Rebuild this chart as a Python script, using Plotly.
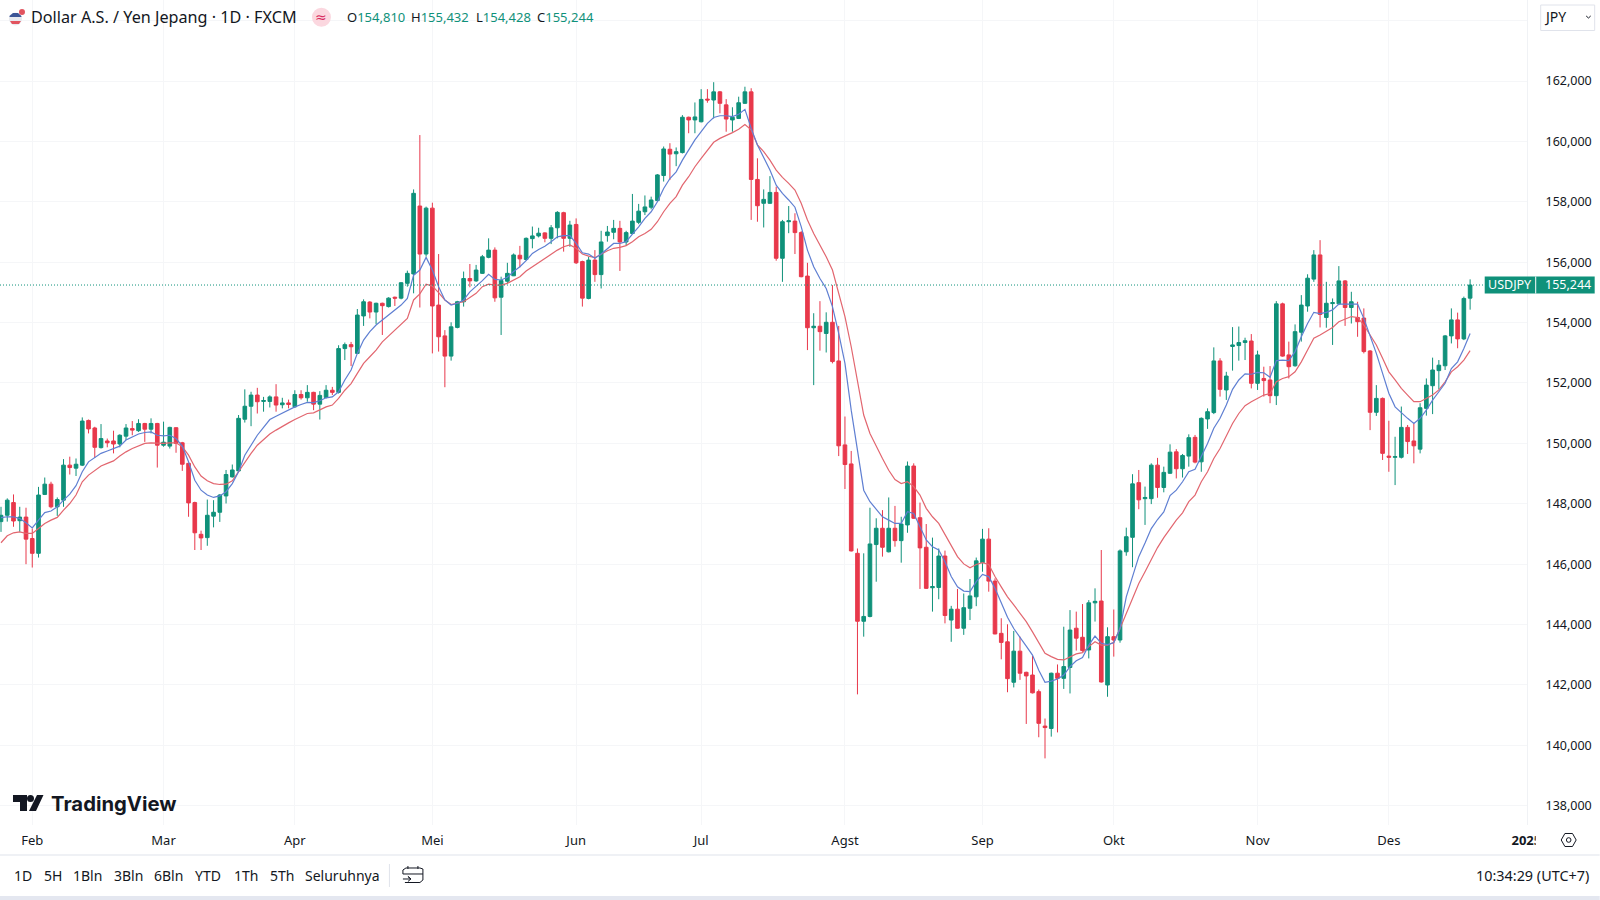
import plotly.graph_objects as go

# USD/JPY daily candles
open_ = [147.41,147.62,148.04,147.44,147.56,146.85,146.36,148.31,148.65,147.90,
    148.12,149.28,149.18,149.28,150.76,150.51,149.86,150.08,150.08,149.98,
    150.24,150.49,150.42,150.66,150.47,150.66,149.94,149.91,150.52,150.02,
    149.34,148.04,146.99,146.88,147.59,147.72,148.26,148.89,149.09,150.80,
    151.23,151.60,151.39,151.39,151.54,151.28,151.34,151.21,151.62,151.51,
    151.69,151.30,151.52,151.76,151.69,153.14,153.27,152.98,154.22,154.68,
    154.35,154.64,154.53,154.84,154.81,155.30,155.61,157.86,156.27,157.79,
    154.58,153.56,152.89,153.84,154.69,155.46,155.38,155.63,156.16,156.40,
    154.84,155.37,155.55,156.23,156.09,156.78,156.87,156.97,156.79,157.14,
    157.64,156.79,157.25,156.02,154.80,156.07,155.59,156.88,156.99,157.12,
    156.67,156.95,157.32,157.67,157.82,158.04,158.87,159.74,159.59,159.63,
    160.80,160.71,160.65,161.40,161.37,161.64,161.21,160.71,160.76,161.26,
    161.64,158.74,157.95,157.95,158.31,156.13,157.34,157.36,156.98,155.54,
    153.83,153.88,153.64,154.01,152.73,149.95,149.32,146.36,144.11,144.27,
    146.65,147.19,146.41,147.19,146.78,147.30,149.25,147.54,146.56,145.22,
    145.23,146.27,144.15,144.51,143.88,144.54,144.92,146.05,146.83,145.44,
    143.71,143.43,142.09,143.12,142.42,142.33,141.78,140.64,140.56,142.39,
    142.22,142.58,143.88,143.58,143.16,144.72,144.78,142.00,143.60,143.49,
    146.41,146.89,148.70,148.17,148.17,149.28,148.54,149.01,149.72,149.16,
    149.58,150.20,149.39,150.81,151.02,152.73,151.77,153.21,153.24,153.34,
    153.39,151.99,152.15,152.10,151.58,154.62,152.93,152.57,153.68,154.55,
    155.44,156.24,154.17,154.63,154.62,155.38,154.50,154.17,154.15,153.06,
    151.03,151.49,149.58,149.54,149.54,150.53,150.08,149.81,151.16,151.91,
    152.41,152.57,153.56,154.09,153.46,154.810]

high = [147.90,148.18,148.31,147.90,147.87,147.18,148.56,148.87,148.73,148.21,
    149.48,149.56,149.50,150.86,150.79,150.55,150.64,150.16,150.42,150.30,
    150.64,150.74,150.80,150.68,150.83,150.68,150.72,150.55,150.53,150.05,
    149.36,148.07,147.11,148.14,148.12,148.32,149.12,149.30,150.94,151.79,
    151.71,151.84,151.54,151.59,151.96,151.51,151.45,151.76,151.76,151.93,
    151.71,151.73,151.93,151.87,153.25,153.34,153.36,154.45,154.77,154.71,
    154.66,154.66,154.84,154.86,155.34,155.72,158.41,160.21,157.84,157.97,
    156.27,153.75,154.01,154.72,155.69,155.94,155.91,156.24,156.79,156.49,
    155.52,155.98,156.29,156.54,156.82,157.18,157.14,156.99,157.23,157.69,
    157.67,157.37,157.45,156.05,156.18,156.40,157.04,157.20,157.40,157.37,
    157.04,158.26,157.93,158.21,158.17,158.92,159.83,159.94,159.80,160.87,
    160.82,161.29,161.73,161.73,161.96,161.67,161.40,161.13,161.48,161.81,
    161.76,159.44,158.41,158.85,158.50,157.40,157.86,157.62,157.03,155.98,
    154.31,154.71,154.34,155.24,153.89,150.89,149.75,146.52,146.36,147.87,
    147.52,147.79,148.21,147.93,147.57,149.40,149.34,148.04,147.33,146.88,
    146.52,146.45,144.62,145.18,145.03,145.51,146.22,147.17,147.19,145.53,
    144.21,144.01,143.79,143.60,142.44,142.96,141.85,140.89,142.41,142.68,
    143.93,144.48,144.43,144.68,144.81,145.20,146.47,143.91,144.50,146.49,
    147.21,148.98,149.12,148.57,149.34,149.52,149.23,149.97,149.81,149.65,
    150.30,150.28,150.86,151.16,153.18,152.82,152.37,153.85,153.87,153.50,
    153.62,153.07,152.54,152.56,154.71,154.66,153.37,153.94,154.91,155.60,
    156.40,156.73,155.35,154.80,155.87,155.41,155.02,154.69,154.47,153.09,
    151.93,151.52,150.75,150.22,151.22,150.61,150.66,151.33,152.15,152.84,
    152.76,153.59,154.47,154.33,154.86,155.432]

low = [147.07,147.41,147.24,147.07,146.00,145.89,146.22,148.29,147.85,147.60,
    147.90,148.97,148.92,149.25,150.33,149.52,149.83,149.87,149.67,149.87,
    150.11,150.27,150.38,150.05,150.33,149.20,149.89,149.83,149.69,149.09,
    147.57,146.47,146.47,146.61,147.22,147.40,148.01,148.87,149.06,150.69,
    150.57,150.99,151.05,151.19,151.05,151.16,151.16,151.18,151.45,151.38,
    151.10,150.79,151.49,151.60,151.65,152.76,152.56,152.96,153.89,154.14,
    153.95,153.59,154.50,154.55,154.77,155.19,154.97,154.50,156.18,152.98,
    153.04,151.86,152.74,153.81,154.53,155.17,155.35,155.61,156.13,154.69,
    153.59,155.30,155.54,155.83,156.05,156.46,156.82,156.66,156.60,156.79,
    156.35,156.51,155.94,154.53,154.77,155.35,155.13,156.68,156.76,155.71,
    156.54,156.93,157.26,157.56,157.75,158.00,158.67,158.72,159.18,159.60,
    160.27,160.27,160.63,161.28,160.76,160.93,160.32,160.32,160.74,161.24,
    157.40,157.34,157.15,157.93,156.05,155.35,156.96,156.27,155.50,153.09,
    151.93,153.07,153.01,152.65,149.58,148.49,146.42,141.69,143.60,144.24,
    145.42,146.25,146.39,146.58,146.05,147.04,147.50,145.18,145.18,144.43,
    144.84,144.04,143.43,143.87,143.66,144.15,144.61,145.75,145.09,143.68,
    142.85,141.76,141.92,142.17,140.71,141.72,140.27,139.57,140.29,140.43,
    141.87,141.72,143.14,143.10,142.88,144.10,142.08,141.61,142.94,143.40,
    146.28,145.90,147.82,147.30,147.99,148.20,148.38,148.99,148.84,148.87,
    149.23,149.34,149.06,150.48,150.97,151.55,151.44,152.41,152.74,152.76,
    151.82,151.77,151.55,151.33,151.27,152.87,152.15,152.54,153.37,154.36,
    155.35,153.84,153.83,153.26,154.58,153.89,153.97,153.53,152.98,150.44,
    150.91,149.45,149.06,148.62,149.50,149.65,149.34,149.67,150.92,150.97,
    151.79,152.43,153.31,153.15,153.42,154.428]

close = [147.62,148.12,147.43,147.56,146.83,146.36,148.29,148.65,147.90,148.14,
    149.28,149.20,149.31,150.74,150.48,149.87,150.16,150.02,149.98,150.27,
    150.51,150.44,150.66,150.47,150.66,149.94,150.04,150.53,150.00,149.31,
    148.03,147.04,146.87,147.62,147.72,148.29,148.97,149.12,150.83,151.23,
    151.60,151.38,151.42,151.54,151.27,151.34,151.29,151.62,151.51,151.69,
    151.30,151.59,151.76,151.69,153.14,153.27,153.20,154.25,154.69,154.35,
    154.64,154.56,154.81,154.81,155.32,155.63,158.28,156.27,157.79,154.55,
    153.53,152.89,153.86,154.69,155.46,155.38,155.74,156.18,156.40,154.82,
    155.39,155.63,156.24,156.11,156.79,156.87,156.96,156.79,157.14,157.65,
    156.79,157.23,155.98,154.81,156.07,155.59,156.67,157.00,157.12,156.67,
    156.98,157.36,157.69,157.83,158.06,158.89,159.75,159.58,159.66,160.80,
    160.71,160.81,161.39,161.37,161.64,161.26,160.74,160.80,161.28,161.64,
    158.74,157.87,158.08,158.31,156.13,157.34,157.37,156.98,155.52,153.83,
    153.88,153.70,154.01,152.71,149.92,149.30,146.44,144.11,144.27,146.67,
    147.19,146.56,147.19,146.78,147.33,149.25,147.52,146.54,145.20,145.26,
    146.27,144.30,144.51,143.88,144.56,144.95,146.11,146.83,145.44,143.69,
    143.41,142.21,143.12,142.39,142.30,141.74,140.73,140.59,142.39,142.22,
    142.61,143.82,143.55,143.14,144.72,144.77,142.10,143.60,143.49,146.44,
    146.91,148.66,148.13,148.21,149.28,148.54,149.04,149.71,149.16,149.60,
    150.19,149.38,150.83,151.05,152.73,151.79,152.23,153.26,153.34,153.40,
    151.99,152.93,152.08,151.58,154.62,152.89,152.54,153.70,154.58,155.47,
    156.24,154.27,154.64,154.66,155.38,154.50,154.69,154.03,153.04,151.03,
    151.49,149.67,149.54,149.56,150.53,150.06,149.92,151.18,151.93,152.43,
    152.59,153.56,154.09,153.46,154.80,155.244]

# the two moving averages, also read by eye
ma_blue = [147.54,147.57,147.57,147.51,147.37,147.20,147.46,147.71,147.76,147.90,
    148.12,148.32,148.60,149.06,149.39,149.53,149.67,149.75,149.83,149.91,
    150.11,150.22,150.31,150.36,150.38,150.27,150.25,150.27,150.16,149.91,
    149.39,148.78,148.45,148.29,148.21,148.26,148.40,148.67,149.06,149.61,
    149.94,150.27,150.53,150.79,150.90,151.01,151.10,151.21,151.29,151.36,
    151.35,151.41,151.51,151.54,151.71,152.10,152.43,152.98,153.42,153.70,
    153.92,154.08,154.25,154.39,154.58,154.80,155.57,155.74,156.16,155.74,
    155.19,154.75,154.58,154.64,154.75,155.02,155.19,155.39,155.60,155.43,
    155.41,155.50,155.69,155.85,156.05,156.29,156.42,156.53,156.68,156.84,
    156.88,156.88,156.62,156.31,156.27,156.13,156.27,156.46,156.62,156.62,
    156.68,156.93,157.17,157.45,157.67,158.00,158.44,158.77,158.99,159.38,
    159.71,160.05,160.32,160.60,160.79,160.85,160.85,160.82,160.90,161.06,
    160.43,159.88,159.47,159.05,158.55,158.28,158.06,157.82,157.18,156.40,
    155.85,155.46,155.13,154.53,153.64,152.65,151.10,149.73,148.45,148.07,
    147.81,147.57,147.46,147.35,147.35,147.74,147.68,147.24,146.80,146.58,
    146.47,146.08,145.59,145.25,145.11,145.09,145.42,145.66,145.59,145.20,
    144.70,144.24,143.87,143.60,143.29,142.99,142.49,142.09,142.13,142.20,
    142.33,142.61,142.80,142.91,143.32,143.62,143.38,143.34,143.40,143.87,
    144.92,145.59,146.25,146.70,147.18,147.48,147.73,148.27,148.45,148.73,
    149.06,149.14,149.56,150.00,150.50,150.83,151.27,151.79,152.10,152.30,
    152.29,152.35,152.34,152.19,152.74,152.76,152.74,153.04,153.53,153.97,
    154.34,154.30,154.34,154.42,154.61,154.61,154.61,154.61,154.14,153.59,
    152.98,152.32,151.66,151.21,151.01,150.83,150.66,150.83,151.10,151.43,
    151.71,151.99,152.48,152.70,153.14,153.64]

ma_red = [146.71,146.94,147.04,147.07,147.02,147.02,147.18,147.35,147.46,147.55,
    147.79,148.01,148.29,148.73,148.95,149.09,149.25,149.34,149.42,149.58,
    149.72,149.83,149.92,150.00,150.02,150.00,150.00,150.02,150.02,149.89,
    149.61,149.22,148.92,148.76,148.67,148.64,148.65,148.76,149.06,149.39,
    149.67,149.94,150.14,150.31,150.44,150.57,150.68,150.79,150.90,150.99,
    151.01,151.12,151.21,151.27,151.49,151.76,151.98,152.32,152.65,152.87,
    153.09,153.36,153.55,153.73,153.92,154.14,154.75,154.95,155.27,155.21,
    154.99,154.75,154.60,154.64,154.69,154.83,154.97,155.19,155.27,155.24,
    155.24,155.30,155.41,155.52,155.71,155.85,155.98,156.13,156.27,156.40,
    156.51,156.57,156.46,156.27,156.20,156.15,156.26,156.38,156.46,156.49,
    156.55,156.68,156.84,156.95,157.09,157.34,157.67,157.95,158.17,158.55,
    158.83,159.16,159.44,159.71,159.97,160.10,160.19,160.29,160.40,160.56,
    160.38,159.88,159.66,159.38,159.05,158.81,158.61,158.39,157.95,157.40,
    156.95,156.57,156.18,155.74,154.97,154.20,153.20,152.10,150.94,150.33,
    149.89,149.50,149.11,148.80,148.67,148.73,148.57,148.29,147.85,147.57,
    147.35,146.97,146.58,146.25,146.01,145.88,145.99,146.05,145.99,145.59,
    145.25,144.92,144.65,144.37,144.10,143.76,143.38,143.05,142.94,142.85,
    142.83,142.94,143.03,143.07,143.27,143.43,143.32,143.32,143.41,143.87,
    144.37,144.81,145.36,145.75,146.15,146.55,146.88,147.18,147.46,147.70,
    148.07,148.29,148.73,149.06,149.50,149.83,150.22,150.66,150.99,151.25,
    151.38,151.49,151.60,151.65,152.04,152.15,152.21,152.37,152.70,153.09,
    153.48,153.59,153.72,153.84,154.03,154.11,154.20,154.17,153.92,153.59,
    153.26,152.82,152.37,152.10,151.82,151.60,151.38,151.38,151.49,151.60,
    151.77,152.04,152.37,152.54,152.76,153.07]

# first trading day of each month, as a bar number
month_bars = [5, 26, 47, 69, 92, 112, 135, 157, 178, 201, 222, 244]
month_labels = ['Feb', 'Mar', 'Apr', 'Mei', 'Jun', 'Jul', 'Agst', 'Sep', 'Okt', 'Nov', 'Des', '<b>2025</b>']
price_ticks = [138, 140, 142, 144, 146, 148, 150, 152, 154, 156, 158, 160, 162, 164]
range_buttons = ['1D', '5H', '1Bln', '3Bln', '6Bln', 'YTD', '1Th', '5Th', 'Seluruhnya']
range_button_x = [23, 52.7, 87.7, 128.7, 168.7, 208.3, 246, 282, 342.8]

GREEN = '#0f917a'
RED = '#e8384b'
TEXT = '#131722'
GRID = '#f5f6f8'
FONT = 'Noto Sans'
W, H = 1600, 900
PLOT_W, PLOT_H = 1527.3, 825


def fx(x):
    return x / PLOT_W


def fy(y):
    return 1 - y / PLOT_H


def label(x, y, text, size=13, color=TEXT, anchor='center', family=FONT):
    fig.add_annotation(x=fx(x), y=fy(y), xref='paper', yref='paper', text=text, showarrow=False,
        xanchor=anchor, yanchor='middle', borderpad=0, borderwidth=0,
        font=dict(family=family, size=size, color=color))


def rect(x0, y0, x1, y1, fill, line=None):
    fig.add_shape(type='rect', xref='paper', yref='paper', x0=fx(x0), y0=fy(y0), x1=fx(x1), y1=fy(y1),
        fillcolor=fill, line=dict(color=line or fill, width=1 if line else 0), layer='above')


def circle(cx, cy, r, fill, line=None):
    fig.add_shape(type='circle', xref='paper', yref='paper', x0=fx(cx - r), y0=fy(cy - r), x1=fx(cx + r), y1=fy(cy + r),
        fillcolor=fill, line=dict(color=line or fill, width=1 if line else 0), layer='above')


def poly(points, fill=None, line=None, width=1, closed=True):
    path = 'M ' + ' L '.join(f'{fx(x):.5f} {fy(y):.5f}' for x, y in points) + (' Z' if closed else '')
    fig.add_shape(type='path', xref='paper', yref='paper', path=path, fillcolor=fill,
        line=dict(color=line or 'rgba(0,0,0,0)', width=width if line else 0), layer='above')


bars = list(range(len(close)))

fig = go.Figure()
fig.add_trace(go.Candlestick(x=bars, open=open_, high=high, low=low, close=close,
    increasing=dict(line=dict(color=GREEN, width=1), fillcolor=GREEN),
    decreasing=dict(line=dict(color=RED, width=1), fillcolor=RED),
    whiskerwidth=0, showlegend=False))
fig.add_trace(go.Scatter(x=bars, y=ma_red, mode='lines', line=dict(color='#e2666f', width=1.2), showlegend=False))
fig.add_trace(go.Scatter(x=bars, y=ma_blue, mode='lines', line=dict(color='#5f7fd2', width=1.2), showlegend=False))

fig.update_layout(width=W, height=H, paper_bgcolor='white', plot_bgcolor='white',
    margin=dict(l=0, r=W - PLOT_W, t=0, b=H - PLOT_H, pad=0, autoexpand=False),
    showlegend=False, boxgap=0.42, boxgroupgap=0, font=dict(family=FONT, size=13, color=TEXT))
fig.update_xaxes(range=[-0.16, 244.1], rangeslider_visible=False, tickmode='array',
    tickvals=month_bars, ticktext=month_labels, showgrid=True, gridcolor=GRID, gridwidth=1,
    zeroline=False, showline=False, ticks='', ticklabelstandoff=6, tickangle=0,
    tickfont=dict(family=FONT, size=13, color=TEXT))
fig.update_yaxes(range=[137.364, 164.682], side='right', tickmode='array', tickvals=price_ticks,
    ticktext=['' if p == 164 else f'{p},000' for p in price_ticks], showgrid=True, gridcolor=GRID,
    gridwidth=1, zeroline=False, showline=True, linecolor='#f0f2f5', linewidth=1, ticks='',
    ticklabelstandoff=15, tickfont=dict(family=FONT, size=12.5, color=TEXT))

# last price line and its label on the scale
fig.add_shape(type='line', xref='paper', yref='y', x0=0, x1=fx(1485), y0=close[-1], y1=close[-1],
    line=dict(color=GREEN, width=1, dash='1px,2px'), layer='above')
rect(1485, 276.5, 1595, 293.5, GREEN)
poly([(1536, 276.5), (1536, 293.5)], line='white', width=1, closed=False)
last_text = f'{close[-1]:,.3f}'.replace('.', ',')
label(1510, 284.5, 'USDJPY', size=12.5, color='white')
label(1568, 284.5, last_text, size=12.5, color='white')

# clip the 2025 label like the time scale does
rect(1536, 830, 1552, 852, 'white')

# header
circle(15.5, 19, 6.5, '#e8e9ef')
poly([(9.3, 17), (21.7, 17), (20.8, 15.5), (18, 13), (13, 13), (10, 15.5)], fill='#3d5596')
poly([(10, 21), (21, 21), (19, 24), (12, 24)], fill='#e2545f')
circle(22, 12, 3, '#e2545f')
label(31.5, 17, 'Dollar A.S. / Yen Jepang · 1D · FXCM', size=16.2, anchor='left')
circle(321.5, 17.3, 9.5, '#fbd7df')
label(321.5, 16.5, '≈', size=14, color='#d8265c', family='DejaVu Sans')
ohlc_x = [347, 411, 476, 537]
for x, name, val in zip(ohlc_x, 'OHLC', [open_[-1], high[-1], low[-1], close[-1]]):
    txt = f'{val:,.3f}'.replace('.', ',')
    label(x, 17, f'{name}<span style="color:{GREEN}">{txt}</span>', size=13, anchor='left')

# currency box
fig.add_shape(type='rect', xref='paper', yref='paper', x0=fx(1541), y0=fy(5), x1=fx(1595), y1=fy(30.5),
    fillcolor='white', line=dict(color='#e0e3eb', width=1), layer='above')
label(1544, 16, 'JPY', size=14, anchor='left')
poly([(1586.5, 16), (1588.8, 18), (1591, 16)], line=TEXT, width=1, closed=False)

# TradingView mark
poly([(13, 795), (27, 795), (27, 811), (20, 811), (20, 802), (13, 802)], fill=TEXT)
circle(30.5, 798.5, 3.5, TEXT)
poly([(37, 795), (43.5, 795), (36, 811), (29, 811)], fill=TEXT)
label(51, 803.5, '<b>TradingView</b>', size=20.3, color=TEXT, anchor='left', family='Inter')

# bottom toolbar
rect(0, 854.5, W, 855.5, '#e0e3eb')
rect(0, 896, W, 900, '#e4e7f0')
for x, txt in zip(range_button_x, range_buttons):
    label(x, 875, txt, size=14)
rect(389, 864, 390, 887, '#e0e3eb')
poly([(405, 882.5), (420, 882.5), (423, 880), (423, 869), (420, 868), (406, 868), (403, 870), (403, 874), (423, 874)],
    line=TEXT, width=1, closed=False)
poly([(403, 879), (411, 879), (408, 876.5), (411, 879), (408, 881.5)], line=TEXT, width=1, closed=False)
poly([(408, 866), (408, 869)], line=TEXT, width=1, closed=False)
poly([(418, 866), (418, 869)], line=TEXT, width=1, closed=False)
label(1589, 875, '10:34:29 (UTC+7)', size=14.4, anchor='right')

# chart settings hexagon
poly([(1561.5, 840), (1565.2, 833.5), (1572.8, 833.5), (1576.5, 840), (1572.8, 846.5), (1565.2, 846.5)],
    line=TEXT, width=1)
circle(1569, 840, 2.3, 'white', line=TEXT)

fig.write_html("out.html", config=dict(displayModeBar=False),
    post_script="document.body.style.margin='0';")
